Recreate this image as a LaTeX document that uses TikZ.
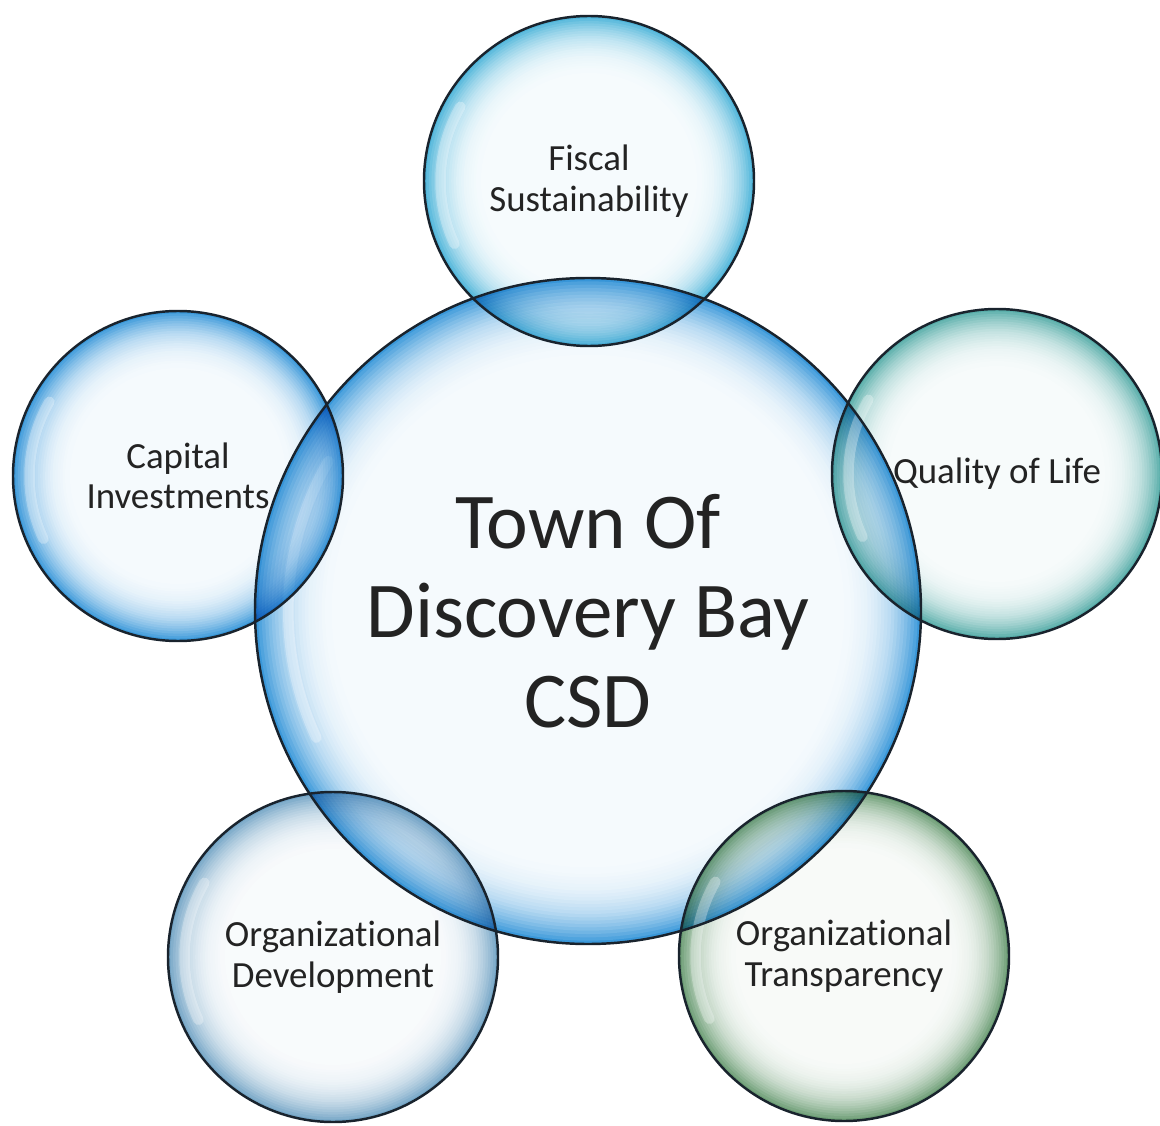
\documentclass[tikz,border=0pt]{standalone}
\usepackage{fontspec}
\setmainfont[Ligatures=NoCommon]{Carlito}
\usepackage{tikz}
\usetikzlibrary{positioning, backgrounds, calc}
\definecolor{MainBlue}{RGB}{15,130,210}
\definecolor{FiscalBlue}{RGB}{40,165,210}
\definecolor{QualityTeal}{RGB}{50,155,150}
\definecolor{DevelopBlue}{RGB}{85,145,185}
\definecolor{TranspGreen}{RGB}{75,135,85}
\definecolor{LineColor}{RGB}{25,35,45}
\definecolor{TextColor}{RGB}{35,35,35}
\tikzset{
  bubblenode/.style={circle, draw=LineColor, line width=0.7pt, inner sep=0pt, align=center, text=TextColor, font=\fontsize{10.5}{11.5}\selectfont},
  bigbubble/.style={bubblenode, minimum size=6.66cm, font=\fontsize{22.5}{25.5}\selectfont},
  smallbubble/.style={bubblenode, minimum size=3.3cm},
  shine/.style={white, line width=3pt, line cap=round, opacity=0.3}
}

\begin{document}
\begin{tikzpicture}
  \useasboundingbox (0,0) rectangle (11.6,-11.26);

  \node[bigbubble] (main) at (5.88,-6.11) {Town Of\\Discovery Bay\\CSD};
  \node[smallbubble] (fiscal) at (5.89,-1.81) {Fiscal\\Sustainability};
  \node[smallbubble] (capital) at (1.78,-4.76) {Capital\\Investments};
  \node[smallbubble] (quality) at (9.97,-4.74) {Quality of Life};
  \node[smallbubble] (develop) at (3.33,-9.57) {Organizational\\Development};
  \node[smallbubble] (transp) at (8.44,-9.56) {Organizational\\Transparency};

  % bubble fills: disks fading from the rim to the middle
  \begin{scope}[on background layer]
    \foreach \n/\c/\r/\s in {main/MainBlue/3.33/0.3, fiscal/FiscalBlue/1.65/0.45, capital/MainBlue/1.65/0.45,
                             quality/QualityTeal/1.65/0.45, develop/DevelopBlue/1.65/0.45, transp/TranspGreen/1.65/0.45} {
      \begin{scope}[blend mode=multiply]
        \begin{scope}[transparency group]
          \begin{scope}[blend mode=normal]
            \foreach \k in {0,...,30} {
              \pgfmathsetmacro{\ra}{\r*(1-\s*\k/30)}
              \pgfmathtruncatemacro{\pct}{4+78*(1-\k/30)^3.2}
              \fill[\c!\pct] (\n.center) circle[radius=\ra];
            }
          \end{scope}
        \end{scope}
      \end{scope}
      \draw[shine] ($(\n.center)+(150:0.9*\r)$) arc[start angle=150, end angle=205, radius=0.9*\r];
    }
  \end{scope}
\end{tikzpicture}
\end{document}
